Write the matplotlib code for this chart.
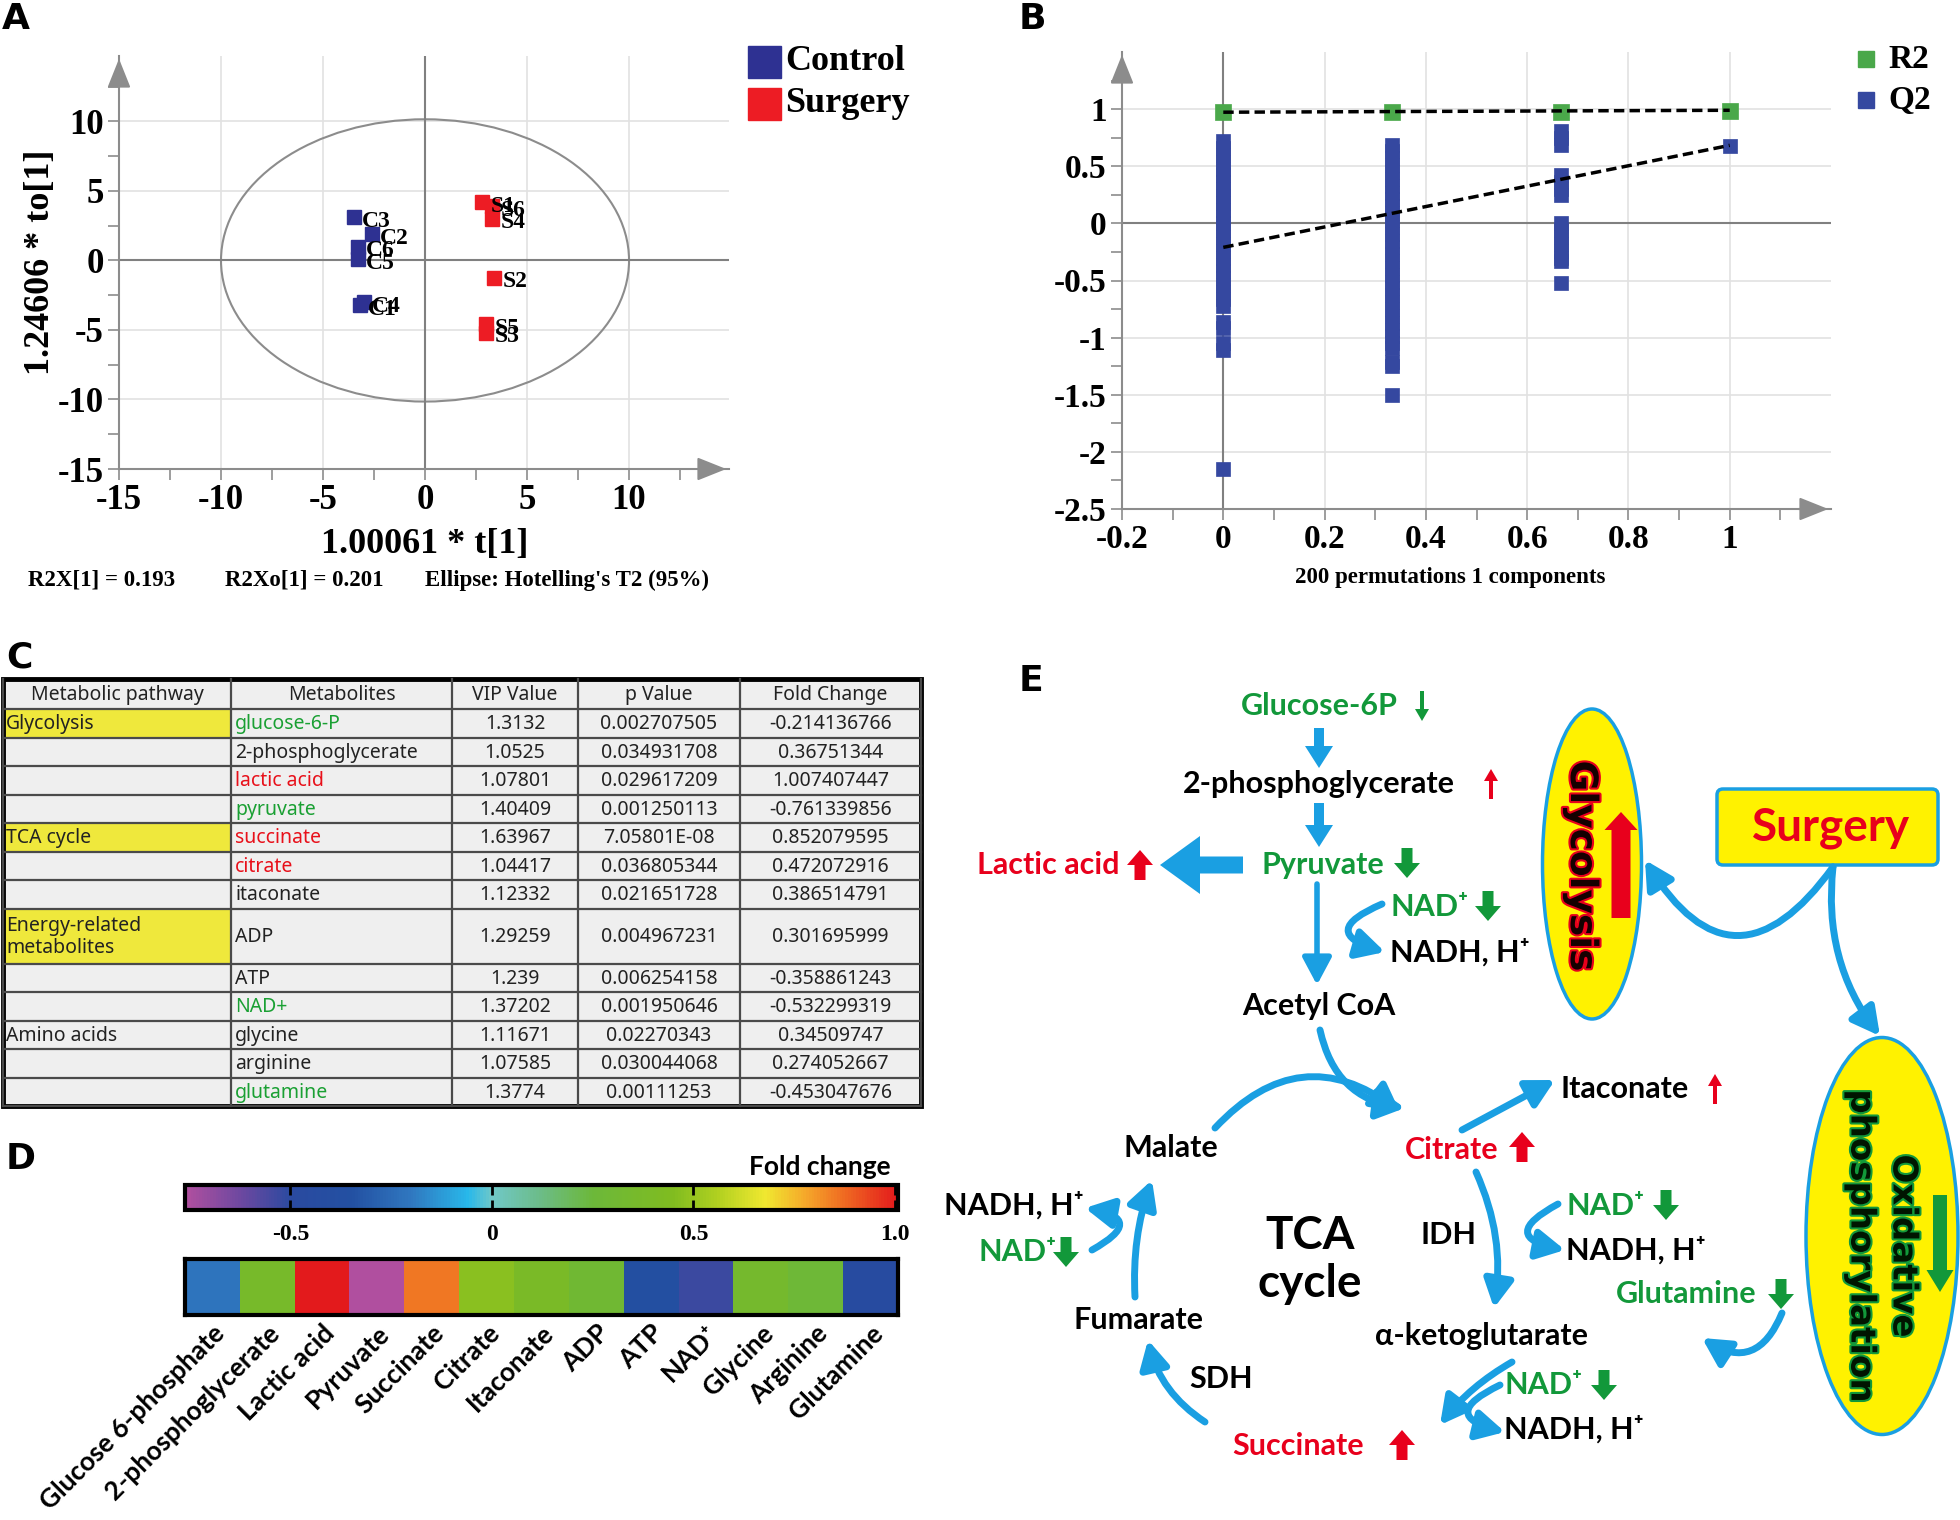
import numpy as np
import matplotlib
matplotlib.use("Agg")
from matplotlib import pyplot as plt
from matplotlib import patches, patheffects
from matplotlib.colors import LinearSegmentedColormap, Normalize
from matplotlib.cm import ScalarMappable

plt.rcParams["font.family"] = ["Noto Sans", "DejaVu Sans"]
SERIF = "Liberation Serif"
BOLD_SANS = ["Lato", "DejaVu Sans"]

# ---------------- data ----------------
# A: OPLS-DA scores
control_names = ["C1", "C2", "C3", "C4", "C5", "C6"]
control_t = [-3.2, -2.6, -3.5, -3.0, -3.3, -3.3]
control_to = [-3.2, 1.9, 3.1, -3.0, 0.1, 1.0]
surgery_names = ["S1", "S2", "S3", "S4", "S5", "S6"]
surgery_t = [2.8, 3.4, 3.0, 3.3, 3.0, 3.3]
surgery_to = [4.2, -1.25, -5.2, 3.0, -4.6, 3.9]

# B: permutation test
perm_x = [0.0, 0.333, 0.667, 1.0]
r2_vals = [0.975, 0.975, 0.975, 0.98]
q2_perm = [
    [0.72, 0.66, 0.6, 0.54, 0.48, 0.42, 0.36, 0.3, 0.24, 0.18, 0.12, 0.06,
     0.0, -0.06, -0.12, -0.18, -0.24, -0.3, -0.36, -0.42, -0.48, -0.54,
     -0.6, -0.66, -0.72, -0.86, -0.92, -1.05, -1.11, -2.15],
    [0.69, 0.63, 0.57, 0.51, 0.45, 0.39, 0.33, 0.27, 0.21, 0.15, 0.09, 0.03,
     -0.03, -0.09, -0.15, -0.21, -0.27, -0.33, -0.39, -0.45, -0.51, -0.57,
     -0.63, -0.69, -0.75, -0.81, -0.87, -0.93, -0.99, -1.05, -1.09,
     -1.21, -1.25, -1.5],
    [0.81, 0.75, 0.69, 0.42, 0.36, 0.3, 0.25, 0.0, -0.06, -0.12, -0.18,
     -0.24, -0.3, -0.33, -0.52],
    [0.68],
]
r2_line = [0.973, 0.99]
q2_line = [-0.21, 0.683]

# C: table
pathway = ["Glycolysis", "", "", "", "TCA cycle", "", "",
           "Energy-related\nmetabolites", "", "", "Amino acids", "", ""]
highlighted = ["Glycolysis", "TCA cycle", "Energy-related\nmetabolites"]
metabolites = ["glucose-6-P", "2-phosphoglycerate", "lactic acid", "pyruvate",
               "succinate", "citrate", "itaconate", "ADP", "ATP", "NAD+",
               "glycine", "arginine", "glutamine"]
metab_change = ["down", "", "up", "down", "up", "up", "", "", "", "down",
                "", "", "down"]
vip_value = ["1.3132", "1.0525", "1.07801", "1.40409", "1.63967", "1.04417",
             "1.12332", "1.29259", "1.239", "1.37202", "1.11671", "1.07585",
             "1.3774"]
p_value = ["0.002707505", "0.034931708", "0.029617209", "0.001250113",
           "7.05801E-08", "0.036805344", "0.021651728", "0.004967231",
           "0.006254158", "0.001950646", "0.02270343", "0.030044068",
           "0.00111253"]
fold_change = [-0.214136766, 0.36751344, 1.007407447, -0.761339856,
               0.852079595, 0.472072916, 0.386514791, 0.301695999,
               -0.358861243, -0.532299319, 0.34509747, 0.274052667,
               -0.453047676]
headers = ["Metabolic pathway", "Metabolites", "VIP Value", "p Value",
           "Fold Change"]

# D: heatmap labels
heat_labels = ["Glucose 6-phosphate", "2-phosphoglycerate", "Lactic acid",
               "Pyruvate", "Succinate", "Citrate", "Itaconate", "ADP", "ATP",
               "NAD\u207a", "Glycine", "Arginine", "Glutamine"]
cbar_ticks = [-0.5, 0, 0.5, 1.0]
cbar_labels = ["-0.5", "0", "0.5", "1.0"]

# colours
C_BLUE = "#2e3192"
C_RED = "#ed1c24"
G_GREEN = "#4aa84a"
G_BLUE = "#3548a0"
E_BLUE = "#1a9fe2"
E_GREEN = "#12983a"
E_RED = "#e8001c"
YELLOW = "#fff200"

fig = plt.figure(figsize=(19.6, 15.2), dpi=100)
ov = fig.add_axes([0, 0, 1, 1])
ov.set_xlim(0, 1960)
ov.set_ylim(1520, 0)
ov.axis("off")


def px_axes(x0, y0, x1, y1):
    return fig.add_axes([x0 / 1960, 1 - y1 / 1520, (x1 - x0) / 1960,
                         (y1 - y0) / 1520])


def style_sim_axes(ax, xt, xl, yt, yl, xminor, yminor, size):
    for s in ["top", "right"]:
        ax.spines[s].set_visible(False)
    for s in ["left", "bottom"]:
        ax.spines[s].set_color("#8c8c8c")
        ax.spines[s].set_linewidth(1.5)
    fd = dict(fontfamily=SERIF, fontweight="bold", fontsize=size)
    ax.set_xticks(xt, xl, **fd)
    ax.set_yticks(yt, yl, **fd)
    ax.set_xticks(xminor, minor=True)
    ax.set_yticks(yminor, minor=True)
    ax.tick_params(which="both", direction="out", color="#8c8c8c",
                   length=8, width=1.2)
    ax.tick_params(which="major", pad=3)
    ax.grid(True, which="major", color="#e2e2e2", lw=1.2)
    ax.set_axisbelow(True)
    x0, x1 = ax.get_xlim()
    y0, y1 = ax.get_ylim()
    aprops = dict(arrowstyle="-|>,head_length=1.0,head_width=0.4",
                  color="#8c8c8c", lw=1.5, mutation_scale=18)
    ax.annotate("", xy=(x1, y0), xytext=(x1 - (x1 - x0) * 0.05, y0),
                arrowprops=aprops, annotation_clip=False)
    ax.annotate("", xy=(x0, y1), xytext=(x0, y1 - (y1 - y0) * 0.05),
                arrowprops=aprops, annotation_clip=False)


# ---------------- A ----------------
axA = px_axes(119, 56, 729, 469)
axA.set_xlim(-15, 14.9)
axA.set_ylim(-15, 14.7)
style_sim_axes(axA, [-15, -10, -5, 0, 5, 10],
               ["-15", "-10", "-5", "0", "5", "10"],
               [-15, -10, -5, 0, 5, 10],
               ["-15", "-10", "-5", "0", "5", "10"],
               np.arange(-15, 14, 2.5), np.arange(-15, 14, 2.5), 25)
axA.axhline(0, color="#808080", lw=1.5)
axA.axvline(0, color="#808080", lw=1.5)
axA.add_patch(patches.Ellipse((0, 0), 20, 20.3, fill=False,
                              edgecolor="#8c8c8c", lw=1.5))
axA.plot(control_t, control_to, "s", ms=10, color=C_BLUE, mec=C_BLUE)
axA.plot(surgery_t, surgery_to, "s", ms=10, color=C_RED, mec=C_RED)
for names, xs, ys in [(control_names, control_t, control_to),
                      (surgery_names, surgery_t, surgery_to)]:
    for n, x, y in zip(names, xs, ys):
        axA.annotate(n, (x, y), xytext=(6, -3), textcoords="offset points",
                     fontsize=17, fontfamily=SERIF, fontweight="bold",
                     va="center", ha="left")

ov.text(40, 262, "1.24606 * to[1]", rotation=90, ha="center", va="center",
        fontsize=26, fontfamily=SERIF, fontweight="bold")
ov.text(425, 544, "1.00061 * t[1]", ha="center", va="center",
        fontsize=26, fontfamily=SERIF, fontweight="bold")
for x, s in [(28, "R2X[1] = 0.193"), (225, "R2Xo[1] = 0.201"),
             (425, "Ellipse: Hotelling's T2 (95%)")]:
    ov.text(x, 580, s, ha="left", va="center", fontsize=16.5,
            fontfamily=SERIF, fontweight="bold")
for y, c, s in [(62, C_BLUE, "Control"), (104, C_RED, "Surgery")]:
    ov.add_patch(patches.Rectangle((748, y - 16), 33, 32, color=c))
    ov.text(785, y, s, ha="left", va="center", fontsize=26,
            fontfamily=SERIF, fontweight="bold")

# ---------------- B ----------------
axB = px_axes(1122, 52, 1831, 509)
axB.set_xlim(-0.2, 1.2)
axB.set_ylim(-2.5, 1.5)
style_sim_axes(axB, [-0.2, 0, 0.2, 0.4, 0.6, 0.8, 1.0],
               ["-0.2", "0", "0.2", "0.4", "0.6", "0.8", "1"],
               [-2.5, -2, -1.5, -1, -0.5, 0, 0.5, 1],
               ["-2.5", "-2", "-1.5", "-1", "-0.5", "0", "0.5", "1"],
               np.arange(-0.2, 1.15, 0.1), np.arange(-2.5, 1.3, 0.25), 24)
axB.axhline(0, color="#808080", lw=1.5)
axB.axvline(0, color="#808080", lw=1.5)
for x, vals in zip(perm_x, q2_perm):
    axB.plot([x] * len(vals), vals, "s", ms=10.5, color=G_BLUE, mec=G_BLUE,
             mew=0.5)
axB.plot(perm_x, r2_vals, "s", ms=11, color=G_GREEN, mec=G_GREEN, mew=0.5)
axB.plot([0, 1], r2_line, "--", color="black", lw=2.5, dashes=(3, 1.5))
axB.plot([0, 1], q2_line, "--", color="black", lw=2.5, dashes=(3, 1.5))
ov.text(1450, 577, "200 permutations 1 components", ha="center",
        va="center", fontsize=16.5, fontfamily=SERIF, fontweight="bold")
for y, c, s in [(59, G_GREEN, "R2"), (100, G_BLUE, "Q2")]:
    ov.add_patch(patches.Rectangle((1858, y - 8), 16, 16, color=c))
    ov.text(1888, y, s, ha="left", va="center", fontsize=24,
            fontfamily=SERIF, fontweight="bold")

# ---------------- C: table ----------------
col_edges = [3, 231, 452, 578, 740, 921]
row_h = [55 if "\n" in p else 28.5 for p in pathway]
row_top = [709]
for h in row_h:
    row_top.append(row_top[-1] + h)
t_top, t_bot = 679, row_top[-1]
ov.add_patch(patches.Rectangle((col_edges[0], t_top), col_edges[-1] - col_edges[0],
                               t_bot - t_top, facecolor="#efefef", lw=0))
for i, p in enumerate(pathway):
    if p in highlighted:
        ov.add_patch(patches.Rectangle((col_edges[0], row_top[i]),
                                       col_edges[1] - col_edges[0], row_h[i],
                                       facecolor="#efe83c", lw=0))
for y in row_top:
    ov.plot([col_edges[0], col_edges[-1]], [y, y], color="#4a4a4a", lw=1.6)
for x in col_edges:
    ov.plot([x, x], [t_top, t_bot], color="#4a4a4a", lw=1.6)
ov.add_patch(patches.Rectangle((col_edges[0], t_top), col_edges[-1] - col_edges[0],
                               t_bot - t_top, fill=False, edgecolor="black",
                               lw=3.5))
for j, h in enumerate(headers):
    ov.text((col_edges[j] + col_edges[j + 1]) / 2, (t_top + 709) / 2 + 1, h,
            ha="center", va="center", fontsize=14, color="#222222")
mcol = {"up": "#e8101a", "down": "#1aa033", "": "#222222"}
for i in range(len(metabolites)):
    yc = row_top[i] + row_h[i] / 2 + 1
    ov.text(col_edges[0] + 3, yc, pathway[i], ha="left", va="center",
            fontsize=14, color="#222222", linespacing=1.15)
    ov.text(col_edges[1] + 4, yc, metabolites[i], ha="left", va="center",
            fontsize=14, color=mcol[metab_change[i]])
    for j, s in [(2, vip_value[i]), (3, p_value[i]), (4, str(fold_change[i]))]:
        ov.text((col_edges[j] + col_edges[j + 1]) / 2, yc, s, ha="center",
                va="center", fontsize=14, color="#222222")

# ---------------- D: heatmap ----------------
vmin, vmax = min(fold_change), max(fold_change)
stop_vals = [vmin, -0.62, -0.5, -0.35, -0.2, -0.06, 0.0, 0.12, 0.25, 0.45,
             0.56, 0.68, 0.78, 0.87, vmax]
stop_cols = ["#b04f9f", "#6a48a0", "#2a4aa0", "#2350a2", "#3078c0",
             "#28b8ea", "#70c8c8", "#6cbc88", "#6cb83a", "#80bc20",
             "#b0d020", "#f0e830", "#f5a82a", "#f06e22", "#e31a1c"]
pos = np.clip((np.array(stop_vals) - vmin) / (vmax - vmin), 0, 1)
pos[0], pos[-1] = 0.0, 1.0
fc_cmap = LinearSegmentedColormap.from_list("fc", list(zip(pos, stop_cols)))
fc_norm = Normalize(vmin=vmin, vmax=vmax)

cax = px_axes(185, 1185, 898, 1210)
cb = fig.colorbar(ScalarMappable(norm=fc_norm, cmap=fc_cmap), cax=cax,
                  orientation="horizontal")
cb.outline.set_linewidth(3)
cb.minorticks_off()
cb.set_ticks(cbar_ticks)
cb.set_ticklabels(cbar_labels, fontfamily=SERIF, fontweight="bold",
                  fontsize=17)
cax.tick_params(axis="x", top=True, bottom=True, labelbottom=True,
                labeltop=False, direction="in", length=7, width=2,
                color="black", pad=10)
ov.text(891, 1167, "Fold change", ha="right", va="center", fontsize=19,
        fontweight="bold", family=BOLD_SANS)

axD = px_axes(185, 1259, 898, 1315)
axD.imshow(np.array(fold_change)[np.newaxis, :], cmap=fc_cmap, norm=fc_norm,
           aspect="auto", interpolation="nearest")
axD.set_yticks([])
axD.set_xticks(range(len(heat_labels)), heat_labels, rotation=45, ha="right",
               va="top", rotation_mode="anchor", fontsize=19,
               fontweight="bold", family=BOLD_SANS)
axD.tick_params(axis="x", length=0, pad=4)
for s in axD.spines.values():
    s.set_linewidth(3)

# ---------------- E: pathway diagram ----------------


def label(x, y, s, color="black", size=22, ha="center"):
    ov.text(x, y, s, color=color, fontsize=size, fontweight="bold", ha=ha,
            va="center", family=BOLD_SANS)


def status(x, yc, up, color, thick=True):
    L = 30
    w, hw, hl = (11, 26, 15) if thick else (4, 14, 12)
    y0 = yc + L / 2 if up else yc - L / 2
    dy = -L if up else L
    ov.add_patch(patches.FancyArrow(x, y0, 0, dy, width=w, head_width=hw,
                                    head_length=hl, length_includes_head=True,
                                    color=color, lw=0))


def block(p0, p1, w, hw, hl):
    ov.add_patch(patches.FancyArrow(p0[0], p0[1], p1[0] - p0[0], p1[1] - p0[1],
                                    width=w, head_width=hw, head_length=hl,
                                    length_includes_head=True, color=E_BLUE,
                                    lw=0))


def flow(p0, p1, rad=0.0, lw=5, hl=0.75, hw=0.4):
    ov.add_patch(patches.FancyArrowPatch(
        p0, p1, connectionstyle=f"arc3,rad={rad}",
        arrowstyle=f"-|>,head_length={hl},head_width={hw}",
        mutation_scale=22, lw=lw, color=E_BLUE, shrinkA=0, shrinkB=0))


# ellipses and box
ov.add_patch(patches.Ellipse((1592, 864), 99, 310, facecolor=YELLOW,
                             edgecolor=E_BLUE, lw=2.5))
ov.add_patch(patches.Ellipse((1882, 1236), 152, 397, facecolor=YELLOW,
                             edgecolor=E_BLUE, lw=2.5))
ov.add_patch(patches.FancyBboxPatch((1717, 789), 221, 76,
                                    boxstyle="round,pad=0,rounding_size=6",
                                    facecolor=YELLOW, edgecolor=E_BLUE,
                                    lw=2.5))
ov.text(1581, 866, "Glycolysis", rotation=-90, ha="center", va="center",
        fontsize=27, fontweight="bold", color="#150000", family="DejaVu Sans",
        path_effects=[patheffects.withStroke(linewidth=3, foreground=E_RED)])
ov.add_patch(patches.FancyArrow(1621, 918, 0, -106, width=19, head_width=33,
                                head_length=18, length_includes_head=True,
                                color=E_RED, lw=0))
ov.text(1882, 1246, "Oxidative\nphosphorylation", rotation=-90,
        ha="center", va="center", fontsize=24.5, fontweight="bold",
        color="#001500", family="DejaVu Sans", linespacing=1.35,
        multialignment="center",
        path_effects=[patheffects.withStroke(linewidth=3,
                                             foreground=E_GREEN)])
ov.add_patch(patches.FancyArrow(1940, 1195, 0, 97, width=14, head_width=27,
                                head_length=22, length_includes_head=True,
                                color=E_GREEN, lw=0))
label(1831, 828, "Surgery", E_RED, 33)

# glycolysis chain
label(1319, 706, "Glucose-6P", E_GREEN)
status(1422, 706, False, E_GREEN, thick=False)
block((1319, 728), (1319, 768), 10, 28, 22)
label(1319, 784, "2-phosphoglycerate")
status(1491, 784, True, E_RED, thick=False)
block((1319, 803), (1319, 847), 10, 28, 22)
label(1323, 865, "Pyruvate", E_GREEN)
status(1407, 863, False, E_GREEN)
label(1048, 865, "Lactic acid", E_RED)
status(1140, 865, True, E_RED)
block((1243, 865), (1160, 865), 17, 58, 40)
flow((1317, 884), (1317, 985), lw=4)
label(1390, 907, "NAD\u207a", E_GREEN, ha="left")
status(1488, 906, False, E_GREEN)
label(1390, 952, "NADH, H\u207a", ha="left")
flow((1382, 904), (1385, 952), rad=1.4)
label(1319, 1006, "Acetyl CoA")

# TCA cycle
flow((1320, 1030), (1405, 1108), rad=0.35)
flow((1215, 1128), (1400, 1112), rad=-0.45)
label(1452, 1150, "Citrate", E_RED)
status(1522, 1147, True, E_RED)
flow((1462, 1130), (1555, 1080))
label(1560, 1089, "Itaconate", ha="left")
status(1715, 1089, True, E_RED, thick=False)
label(1171, 1148, "Malate")
label(1310, 1260, "TCA\ncycle", size=33)
label(1448, 1235, "IDH")
flow((1476, 1172), (1494, 1308), rad=-0.15)
label(1566, 1206, "NAD\u207a", E_GREEN, ha="left")
status(1666, 1205, False, E_GREEN)
label(1566, 1250, "NADH, H\u207a", ha="left")
flow((1558, 1204), (1565, 1250), rad=1.4)
label(1616, 1294, "Glutamine", E_GREEN, ha="left")
status(1781, 1294, False, E_GREEN)
flow((1782, 1313), (1702, 1338), rad=-0.6)
label(1481, 1336, "\u03b1-ketoglutarate")
flow((1512, 1362), (1440, 1425), rad=0.1)
label(1504, 1385, "NAD\u207a", E_GREEN, ha="left")
status(1604, 1385, False, E_GREEN)
label(1504, 1429, "NADH, H\u207a", ha="left")
flow((1500, 1385), (1505, 1432), rad=1.4)
label(1298, 1446, "Succinate", E_RED)
status(1402, 1445, True, E_RED)
label(1221, 1379, "SDH")
flow((1205, 1422), (1148, 1340), rad=-0.2)
label(1138, 1320, "Fumarate")
flow((1135, 1297), (1152, 1180), rad=-0.1)
label(944, 1205, "NADH, H\u207a", ha="left")
label(978, 1252, "NAD\u207a", E_GREEN, ha="left")
status(1066, 1252, False, E_GREEN)
flow((1092, 1250), (1085, 1208), rad=1.4)

# surgery arrows
flow((1833, 867), (1645, 860), rad=-0.75)
flow((1833, 867), (1880, 1036), rad=0.2)

# panel letters
for x, y, s in [(2, 2, "A"), (1019, 2, "B"), (6, 640, "C"), (6, 1142, "D"),
                (1019, 664, "E")]:
    ov.text(x, y, s, ha="left", va="top", fontsize=26, fontweight="bold",
            family="DejaVu Sans")

fig.savefig("out.png", dpi=100)
